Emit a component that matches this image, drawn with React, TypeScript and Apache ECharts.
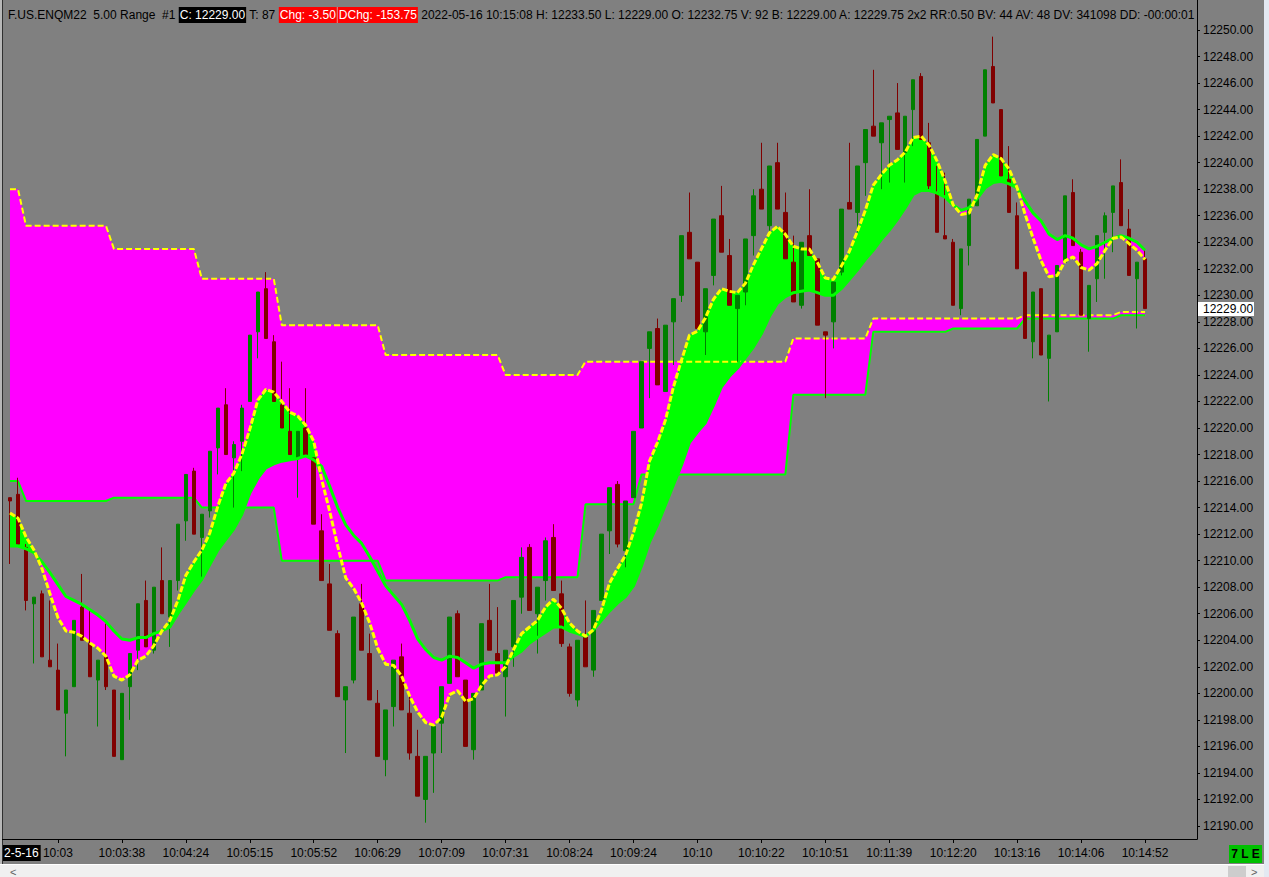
import React, { useEffect, useRef } from "react";
import * as echarts from "echarts";

// ---- Range bars (5.00 Range), each row: [open, high, low, close]
const ohlc: [number, number, number, number][] = [
  [12214.75, 12214.75, 12209.75, 12214.5], [12215.0, 12216.25, 12211.25, 12211.25], [12211.0, 12211.25, 12206.25, 12207.0],
  [12206.75, 12207.25, 12202.25, 12207.25], [12207.5, 12207.75, 12202.75, 12202.75], [12202.5, 12207.0, 12202.0, 12202.0],
  [12201.75, 12203.75, 12198.75, 12198.75], [12198.5, 12200.25, 12195.25, 12200.25], [12200.5, 12205.5, 12200.5, 12205.5],
  [12206.5, 12209.0, 12204.0, 12204.0], [12203.75, 12206.25, 12201.25, 12201.25], [12201.0, 12202.5, 12197.5, 12202.5],
  [12202.75, 12205.25, 12200.25, 12200.5], [12200.25, 12200.25, 12195.25, 12195.25], [12195.0, 12200.0, 12195.0, 12200.0],
  [12200.5, 12203.0, 12198.0, 12203.0], [12203.25, 12206.75, 12201.75, 12206.75], [12207.0, 12208.5, 12203.5, 12203.5],
  [12203.25, 12208.0, 12203.0, 12208.0], [12208.5, 12211.0, 12206.0, 12206.0], [12205.75, 12208.5, 12203.5, 12208.5],
  [12208.5, 12212.75, 12207.75, 12212.75], [12213.0, 12216.5, 12211.5, 12216.5], [12216.75, 12217.0, 12212.0, 12212.0],
  [12211.75, 12213.5, 12208.5, 12213.5], [12213.75, 12218.25, 12213.25, 12218.25], [12218.5, 12221.5, 12216.5, 12221.5],
  [12221.75, 12223.0, 12218.0, 12218.0], [12217.75, 12219.0, 12214.0, 12218.75], [12219.0, 12221.75, 12216.75, 12221.5],
  [12222.0, 12227.0, 12222.0, 12227.0], [12227.25, 12230.25, 12225.25, 12230.25], [12230.5, 12231.75, 12226.75, 12226.75],
  [12226.5, 12227.0, 12222.0, 12222.0], [12221.75, 12225.0, 12220.0, 12220.0], [12219.75, 12223.0, 12218.0, 12218.0],
  [12217.75, 12219.75, 12214.75, 12219.75], [12220.0, 12223.0, 12218.0, 12218.0], [12217.75, 12217.75, 12212.75, 12212.75],
  [12212.25, 12213.5, 12208.5, 12208.5], [12208.25, 12209.75, 12204.75, 12204.75], [12204.5, 12204.75, 12199.75, 12199.75],
  [12199.5, 12200.5, 12195.5, 12200.5], [12201.0, 12205.75, 12200.75, 12205.75], [12206.75, 12208.25, 12203.25, 12203.25],
  [12203.0, 12204.5, 12199.5, 12199.5], [12199.25, 12200.25, 12195.25, 12195.25], [12195.0, 12198.75, 12193.75, 12198.75],
  [12199.0, 12202.5, 12197.5, 12202.5], [12202.75, 12203.75, 12198.75, 12198.75], [12198.5, 12200.0, 12195.0, 12195.5],
  [12195.25, 12197.25, 12192.25, 12192.25], [12192.0, 12195.25, 12190.25, 12195.25], [12195.5, 12197.5, 12192.5, 12197.5],
  [12197.75, 12200.5, 12195.5, 12200.5], [12200.75, 12205.75, 12200.75, 12205.75], [12206.0, 12206.25, 12201.25, 12201.25],
  [12201.0, 12201.0, 12196.0, 12196.0], [12195.75, 12200.0, 12195.0, 12200.0], [12200.25, 12205.25, 12200.25, 12205.25],
  [12205.5, 12208.25, 12203.25, 12203.25], [12203.0, 12206.5, 12201.5, 12201.5], [12201.25, 12203.25, 12198.25, 12203.25],
  [12203.5, 12207.0, 12202.0, 12207.0], [12207.25, 12211.0, 12206.0, 12210.25], [12211.0, 12211.25, 12206.25, 12206.25],
  [12206.0, 12208.0, 12203.0, 12208.0], [12208.5, 12211.75, 12207.0, 12211.5], [12211.75, 12212.75, 12207.75, 12207.75],
  [12207.5, 12208.5, 12203.5, 12203.75], [12203.5, 12203.75, 12199.75, 12200.0], [12199.5, 12204.0, 12199.0, 12204.0],
  [12204.25, 12207.0, 12202.0, 12202.0], [12201.75, 12206.25, 12201.25, 12206.25], [12207.0, 12212.0, 12207.0, 12212.0],
  [12212.25, 12215.5, 12210.5, 12215.5], [12215.75, 12216.0, 12211.0, 12211.25], [12210.75, 12214.5, 12209.5, 12214.5],
  [12214.75, 12219.75, 12214.75, 12219.75], [12220.0, 12225.0, 12220.0, 12225.0], [12226.0, 12227.25, 12222.25, 12227.25],
  [12227.5, 12228.25, 12223.25, 12223.25], [12222.75, 12227.75, 12222.75, 12227.75], [12228.0, 12229.75, 12224.75, 12229.75],
  [12230.0, 12234.5, 12229.5, 12234.5], [12234.75, 12237.75, 12232.75, 12232.75], [12232.5, 12232.5, 12227.5, 12227.5],
  [12227.25, 12230.5, 12225.5, 12230.5], [12231.5, 12235.75, 12230.75, 12235.75], [12236.0, 12238.25, 12233.25, 12233.25],
  [12233.0, 12234.25, 12229.25, 12229.25], [12229.0, 12230.0, 12225.0, 12230.0], [12230.25, 12234.25, 12229.25, 12234.25],
  [12234.5, 12238.0, 12233.0, 12237.5], [12238.0, 12241.5, 12236.5, 12236.5], [12235.25, 12239.75, 12234.75, 12239.75],
  [12240.0, 12241.5, 12236.5, 12236.5], [12236.25, 12237.75, 12232.75, 12232.75], [12232.5, 12234.5, 12229.5, 12229.5],
  [12229.25, 12234.0, 12229.0, 12234.0], [12234.5, 12238.0, 12233.0, 12233.0], [12232.75, 12232.75, 12227.75, 12227.75],
  [12227.25, 12227.25, 12222.25, 12227.0], [12228.0, 12231.0, 12226.0, 12231.0], [12231.75, 12236.5, 12231.5, 12236.5],
  [12237.0, 12241.5, 12236.5, 12236.5], [12236.25, 12239.75, 12234.75, 12239.75], [12240.0, 12242.5, 12237.5, 12242.5],
  [12242.75, 12247.0, 12242.0, 12242.0], [12241.5, 12243.0, 12238.0, 12243.0], [12243.25, 12243.5, 12238.5, 12243.5],
  [12243.75, 12246.0, 12241.0, 12241.0], [12240.75, 12243.5, 12238.5, 12243.5], [12244.0, 12246.25, 12241.25, 12246.25],
  [12246.5, 12246.75, 12241.75, 12241.75], [12241.5, 12243.0, 12238.0, 12238.25], [12237.75, 12239.75, 12234.75, 12234.75],
  [12234.5, 12239.25, 12234.25, 12234.25], [12234.0, 12234.25, 12229.25, 12229.25], [12229.0, 12233.5, 12228.5, 12233.5],
  [12233.75, 12237.25, 12232.25, 12237.25], [12236.75, 12241.75, 12236.75, 12241.75], [12242.0, 12247.0, 12242.0, 12247.0],
  [12247.25, 12249.5, 12244.5, 12244.5], [12244.0, 12244.0, 12239.0, 12239.0], [12238.75, 12241.25, 12236.25, 12236.25],
  [12236.0, 12237.0, 12232.0, 12232.0], [12231.75, 12231.75, 12226.75, 12226.75], [12226.5, 12230.25, 12225.25, 12230.25],
  [12230.5, 12230.5, 12225.5, 12225.5], [12225.25, 12227.0, 12222.0, 12227.0], [12227.25, 12232.25, 12227.25, 12232.25],
  [12232.5, 12237.5, 12232.5, 12237.5], [12237.75, 12238.75, 12233.75, 12233.75], [12233.25, 12233.5, 12228.5, 12228.5],
  [12228.25, 12230.75, 12225.75, 12230.75], [12231.25, 12234.5, 12229.5, 12234.5], [12234.75, 12236.25, 12231.25, 12236.0],
  [12236.25, 12238.25, 12233.25, 12238.25], [12238.5, 12240.25, 12235.25, 12235.25], [12235.0, 12236.5, 12231.5, 12231.5],
  [12231.25, 12232.5, 12227.5, 12232.5], [12232.75, 12233.5, 12229.0, 12229.0],
];

// ---- Fast (yellow dashed) and slow (green) moving averages
const fastMA = [
  12213.6, 12213.2, 12211.8, 12210.8, 12209.4, 12207.5, 12205.7, 12204.7, 12204.6, 12204.3,
  12203.8, 12203.4, 12202.8, 12201.3, 12201.0, 12201.4, 12202.5, 12202.8, 12203.6, 12204.7,
  12205.5, 12207.0, 12208.9, 12209.9, 12210.8, 12212.1, 12214.1, 12215.8, 12216.6, 12218.0,
  12219.9, 12222.1, 12222.9, 12222.7, 12222.0, 12221.2, 12220.9, 12220.2, 12219.0, 12216.1,
  12213.7, 12211.1, 12208.7, 12207.9, 12206.8, 12205.3, 12203.4, 12202.2, 12202.1, 12201.3,
  12199.8, 12198.6, 12197.8, 12197.6, 12198.2, 12199.9, 12200.2, 12199.4, 12199.6, 12200.6,
  12201.3, 12201.4, 12202.0, 12203.3, 12204.5, 12205.0, 12205.5, 12206.5, 12207.1, 12206.4,
  12205.3, 12204.7, 12204.3, 12204.8, 12206.3, 12208.3, 12209.4, 12210.4, 12212.1, 12214.3,
  12217.5, 12218.9, 12220.6, 12223.1, 12225.1, 12227.0, 12227.3, 12228.3, 12229.7, 12230.5,
  12230.3, 12230.2, 12230.9, 12232.3, 12233.5, 12234.7, 12235.2, 12234.6, 12233.7, 12233.5,
  12233.5, 12232.5, 12231.3, 12231.2, 12232.2, 12233.3, 12234.8, 12236.4, 12238.3, 12239.1,
  12239.8, 12240.2, 12240.8, 12241.9, 12242.0, 12241.3, 12240.1, 12238.6, 12236.8, 12236.1,
  12236.2, 12237.6, 12239.8, 12240.6, 12240.3, 12239.5, 12238.1, 12236.1, 12234.3, 12232.6,
  12231.4, 12231.5, 12232.6, 12232.9, 12232.1, 12231.9, 12232.4, 12233.4, 12234.3, 12234.4,
  12233.9, 12233.4, 12232.7,
];
const slowMA = [
  12211.1, 12211.1, 12210.9, 12210.6, 12209.9, 12209.1, 12208.2, 12207.3, 12207.0, 12206.7,
  12206.3, 12205.9, 12205.4, 12204.7, 12204.1, 12204.0, 12204.2, 12204.2, 12204.5, 12204.7,
  12205.0, 12206.0, 12206.9, 12207.8, 12208.6, 12209.7, 12210.8, 12211.6, 12212.4, 12213.5,
  12215.1, 12216.2, 12217.0, 12217.3, 12217.5, 12217.6, 12217.7, 12217.9, 12217.6, 12217.1,
  12215.6, 12214.0, 12212.7, 12211.9, 12211.3, 12210.3, 12209.2, 12208.1, 12207.4, 12206.7,
  12205.5, 12204.1, 12203.3, 12202.7, 12202.5, 12202.8, 12202.7, 12202.3, 12201.9, 12202.2,
  12202.3, 12202.3, 12202.3, 12202.8, 12203.2, 12203.8, 12204.2, 12204.6, 12205.0, 12205.0,
  12204.7, 12204.5, 12204.3, 12204.8, 12205.5, 12206.2, 12206.8, 12207.3, 12208.1, 12209.6,
  12211.4, 12212.7, 12214.2, 12215.7, 12217.2, 12218.9, 12219.7, 12220.4, 12221.7, 12223.1,
  12223.9, 12224.5, 12225.3, 12226.1, 12227.1, 12228.4, 12229.4, 12229.9, 12230.2, 12230.3,
  12230.4, 12230.2, 12230.0, 12230.0, 12230.5, 12231.2, 12231.9, 12232.7, 12233.4, 12234.2,
  12234.9, 12235.7, 12236.6, 12237.6, 12237.9, 12237.9, 12237.7, 12237.4, 12236.8, 12236.4,
  12236.6, 12237.3, 12238.1, 12238.5, 12238.6, 12238.4, 12238.1, 12237.1, 12236.2, 12235.6,
  12234.6, 12234.2, 12234.5, 12234.3, 12233.8, 12233.5, 12233.7, 12234.0, 12234.3, 12234.5,
  12234.3, 12234.0, 12233.4,
];

// ---- Step channel: level values and the last bar index of each level
const upperLevels = [12238.0, 12235.25, 12233.5, 12231.25, 12227.75, 12225.5, 12224.0, 12225.0, 12226.75, 12228.25, 12228.5, 12228.75];
const upperEnds = [1, 12, 23, 33, 46, 61, 71, 97, 107, 126, 138, 142];
const lowerLevels = [12216.0, 12214.5, 12214.75, 12214.0, 12210.0, 12208.5, 12208.75, 12214.25, 12216.5, 12222.5, 12227.25, 12227.5, 12228.25, 12228.5];
const lowerEnds = [1, 12, 23, 33, 46, 61, 71, 78, 97, 107, 117, 126, 138, 142];

// ---- Time axis labels (bar index -> label)
const tickBars = [6, 14, 22, 30, 38, 46, 54, 62, 70, 78, 86, 94, 102, 110, 118, 126, 134, 142];
const tickLabels = ["10:03", "10:03:38", "10:04:24", "10:05:15", "10:05:52", "10:06:29", "10:07:09", "10:07:31", "10:08:24",
  "10:09:24", "10:10", "10:10:22", "10:10:51", "10:11:39", "10:12:20", "10:13:16", "10:14:06", "10:14:52"];
const emptySlots = 6;

const Y_MIN = 12190;
const Y_MAX = 12250;
const Y_STEP = 2;
const lastClose = 12229.0;

const FONT = "'Liberation Sans', Arial, sans-serif";

function expand(levels: number[], ends: number[]) {
  const out: number[] = [];
  let s = 0;
  levels.forEach((v, k) => {
    for (let i = s; i <= ends[k]; i++) out.push(v);
    s = ends[k] + 1;
  });
  return out;
}

export default function App() {
  const ref = useRef<HTMLDivElement>(null);
  useEffect(() => {
    document.body.style.margin = "0";
    const W = 1269, H = 877;
    const chart = echarts.init(ref.current!, null, { renderer: "svg", width: W, height: H });

    const n = ohlc.length;
    const categories = Array.from({ length: n + emptySlots }, (_, i) => String(i));
    const labelMap: Record<number, string> = {};
    tickBars.forEach((b, k) => (labelMap[b] = tickLabels[k]));
    const tickSet = new Set(tickBars);

    const chanUpper = expand(upperLevels, upperEnds);
    const chanLower = expand(lowerLevels, lowerEnds);
    const chanWidth = chanUpper.map((u, i) => +(u - chanLower[i]).toFixed(3));
    const bandBase = fastMA.map((f, i) => Math.min(f, slowMA[i]));
    const bandUp = fastMA.map((f, i) => +Math.max(f - slowMA[i], 0).toFixed(3));
    const bandDown = fastMA.map((f, i) => +Math.max(slowMA[i] - f, 0).toFixed(3));
    const candleData = ohlc.map(([o, h, l, c]) => [o, c, l, h]);

    const noSym = { symbol: "none", showSymbol: false, silent: true };

    chart.setOption({
      animation: false,
      backgroundColor: "#808080",
      textStyle: { fontFamily: FONT },
      grid: { left: 6, top: 30, width: 1191, height: 796 },
      xAxis: {
        type: "category",
        data: categories,
        boundaryGap: true,
        offset: 13,
        axisLine: { show: true, lineStyle: { color: "#000", width: 1 } },
        axisTick: { show: true, alignWithLabel: true, length: 4, interval: (i: number) => tickSet.has(i), lineStyle: { color: "#000" } },
        axisLabel: {
          interval: (i: number) => tickSet.has(i),
          formatter: (v: string) => labelMap[Number(v)] ?? "",
          color: "#000", fontSize: 12, fontFamily: FONT, margin: 8,
        },
        splitLine: { show: false },
      },
      yAxis: {
        type: "value",
        position: "right",
        min: Y_MIN, max: Y_MAX, interval: Y_STEP,
        axisLine: { show: true, lineStyle: { color: "#000", width: 1 } },
        axisTick: { show: true, length: 3, lineStyle: { color: "#000" } },
        axisLabel: { formatter: (v: number) => v.toFixed(2), color: "#000", fontSize: 12, fontFamily: FONT, margin: 6 },
        splitLine: { show: false },
      },
      series: [
        { name: "chanBase", type: "line", data: chanLower, stack: "chan", lineStyle: { width: 0, opacity: 0 }, z: 1, clip: false, ...noSym },
        { name: "chanFill", type: "line", data: chanWidth, stack: "chan", lineStyle: { width: 0, opacity: 0 }, areaStyle: { color: "#ff00ff", opacity: 1 }, z: 1, clip: false, ...noSym },
        { name: "bandBase", type: "line", data: bandBase, stack: "band", lineStyle: { width: 0, opacity: 0 }, z: 2, clip: false, ...noSym },
        { name: "bandUp", type: "line", data: bandUp, stack: "band", lineStyle: { width: 0, opacity: 0 }, areaStyle: { color: "#00ff00", opacity: 1 }, z: 2, clip: false, ...noSym },
        { name: "bandDown", type: "line", data: bandDown, stack: "band", lineStyle: { width: 0, opacity: 0 }, areaStyle: { color: "#ff00ff", opacity: 1 }, z: 2, clip: false, ...noSym },
        { name: "chanLower", type: "line", data: chanLower, lineStyle: { color: "#00ff00", width: 2 }, z: 3, clip: false, ...noSym },
        { name: "chanUpper", type: "line", data: chanUpper, lineStyle: { color: "#ffff00", width: 2, type: [6, 3] }, z: 3, clip: false, ...noSym },
        {
          name: "price", type: "candlestick", data: candleData, barWidth: 4, z: 4, clip: false, silent: true,
          itemStyle: { color: "#008000", color0: "#800000", borderColor: "#008000", borderColor0: "#800000", borderWidth: 1 },
        },
        { name: "slow", type: "line", data: slowMA, lineStyle: { color: "#00ff00", width: 3 }, z: 5, clip: false, ...noSym },
        { name: "fast", type: "line", data: fastMA, lineStyle: { color: "#ffff00", width: 3, type: [6, 2] }, z: 5, clip: false, ...noSym },
      ],
    });

    const yLast = chart.convertToPixel({ yAxisIndex: 0 }, lastClose) as number;

    const header =
      "F.US.ENQM22  5.00 Range  #1 {k|C: 12229.00} T: 87 {r|Chg: -3.50}{s| }{r|DChg: -153.75} " +
      "2022-05-16 10:15:08 H: 12233.50 L: 12229.00 O: 12232.75 V: 92 B: 12229.00 A: 12229.75 2x2 RR:0.50 BV: 44 AV: 48 DV: 341098 DD: -00:00:01";

    chart.setOption({
      graphic: [
        { type: "rect", z: 100, shape: { x: 0, y: 0, width: 2, height: 865 }, style: { fill: "#b8b8b8" } },
        { type: "line", z: 100, shape: { x1: 2.5, y1: 0, x2: 2.5, y2: 865 }, style: { stroke: "#303030", lineWidth: 1 } },
        {
          type: "text", z: 100, x: 8, y: 15,
          style: {
            text: header, fill: "#000", fontSize: 12, fontFamily: FONT, verticalAlign: "middle",
            rich: {
              k: { backgroundColor: "#000", fill: "#fff", fontSize: 12, fontFamily: FONT, padding: [2, 1, 2, 1] },
              r: { backgroundColor: "#ff0000", fill: "#fff", fontSize: 12, fontFamily: FONT, padding: [2, 1, 2, 1] },
              s: { backgroundColor: "#ff8080", fontSize: 12, width: 1, padding: [2, 0, 2, 0] },
            },
          },
        },
        { type: "rect", z: 101, shape: { x: 1198, y: 0, width: 71, height: 22 }, style: { fill: "#808080" } },
        { type: "line", z: 102, shape: { x1: 1197.5, y1: 0, x2: 1197.5, y2: 839 }, style: { stroke: "#000", lineWidth: 1 } },
        { type: "line", z: 102, shape: { x1: 2, y1: 839.5, x2: 1197.5, y2: 839.5 }, style: { stroke: "#000", lineWidth: 1 } },
        {
          type: "text", z: 103, x: 3, y: 853,
          style: { text: "2-5-16", fill: "#fff", fontSize: 12, fontFamily: FONT, verticalAlign: "middle", backgroundColor: "#000", padding: [2, 2, 2, 1] },
        },
        {
          type: "group", z: 103, x: 1198, y: Math.round(yLast) - 7,
          children: [
            { type: "rect", shape: { x: 0, y: 0, width: 56, height: 14 }, style: { fill: "#ffffff" } },
            { type: "text", x: 5, y: 7, style: { text: lastClose.toFixed(2), fill: "#000", fontSize: 12, fontFamily: FONT, verticalAlign: "middle" } },
          ],
        },
        {
          type: "group", z: 103, x: 1229, y: 845,
          children: [
            { type: "rect", shape: { x: 0, y: 0, width: 33, height: 18 }, style: { fill: "#00c000" } },
            { type: "text", x: 16.5, y: 9, style: { text: "7 L E", fill: "#000", fontSize: 12, fontWeight: "bold", fontFamily: FONT, align: "center", verticalAlign: "middle" } },
          ],
        },
        { type: "rect", z: 103, shape: { x: 0, y: 865, width: 1264, height: 12 }, style: { fill: "#f0f0f0" } },
        { type: "line", z: 103, shape: { x1: 0, y1: 864.5, x2: 1264, y2: 864.5 }, style: { stroke: "#ffffff", lineWidth: 1 } },
        { type: "rect", z: 104, shape: { x: 1228, y: 866, width: 18, height: 11 }, style: { fill: "#cdcdcd" } },
        { type: "text", z: 104, x: 10, y: 872, style: { text: "<", fill: "#606060", fontSize: 11, fontFamily: FONT, verticalAlign: "middle" } },
        { type: "text", z: 104, x: 1251, y: 872, style: { text: ">", fill: "#606060", fontSize: 11, fontFamily: FONT, verticalAlign: "middle" } },
        { type: "rect", z: 104, shape: { x: 1264, y: 0, width: 5, height: 877 }, style: { fill: "#e3e9f2" } },
      ],
    });

    return () => chart.dispose();
  }, []);
  return <div ref={ref} style={{ position: "absolute", left: 0, top: 0, width: 1269, height: 877 }} />;
}
